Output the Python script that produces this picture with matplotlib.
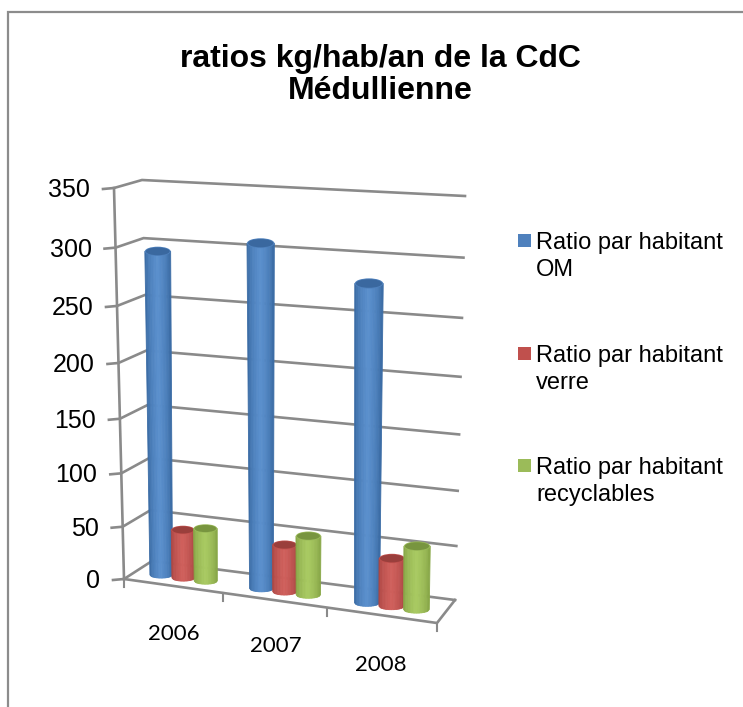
import matplotlib
matplotlib.use("Agg")
import matplotlib.pyplot as plt
import numpy as np
from matplotlib.patches import Ellipse, Polygon, Rectangle

# Data
annees = ['2006', '2007', '2008']
ratio_om = [295, 308, 281]
ratio_verre = [46, 44, 44]
ratio_recyclables = [50, 55, 58]
series = [ratio_om, ratio_verre, ratio_recyclables]
noms = ['Ratio par habitant\nOM', 'Ratio par habitant\nverre', 'Ratio par habitant\nrecyclables']
graduations = [0, 50, 100, 150, 200, 250, 300, 350]

# Colours: (base, dark edge, light centre, top face)
couleurs = [('#4F81BD', '#2F5F96', '#5B90CE', '#3A689F'),
            ('#C0504D', '#A03E3B', '#D0605C', '#9A3F3C'),
            ('#9BBB59', '#7C9A3E', '#A9CA62', '#78953F')]

# Corners of the 3D box in image pixels
sol_av_g = np.array([124, 579.])
sol_av_d = np.array([437, 623.])
sol_ar_g = np.array([152, 561.])
sol_ar_d = np.array([455, 600.])
haut_av_g = np.array([114, 188.])
haut_av_d = np.array([447, 209.])
haut_ar_g = np.array([142, 180.])
haut_ar_d = np.array([465, 196.])
vmax = 350


def persp(f, w=1.08):
    # perspective foreshortening along an edge
    return f / (f + w * (1 - f))


def projette(u, v, val):
    # u along the categories, v in depth, val is the data value
    t = persp(u)
    s = persp(val / vmax)
    bas = (sol_av_g + (sol_av_d - sol_av_g) * t) * (1 - v) + (sol_ar_g + (sol_ar_d - sol_ar_g) * t) * v
    haut = (haut_av_g + (haut_av_d - haut_av_g) * t) * (1 - v) + (haut_ar_g + (haut_ar_d - haut_ar_g) * t) * v
    return bas + (haut - bas) * s


def ligne(ax, pts, lw=1.9):
    pts = np.array(pts)
    ax.plot(pts[:, 0], pts[:, 1], color='#8A8A8A', lw=lw, solid_joinstyle='miter', zorder=2)


def cylindre(ax, u, val, coul, z):
    base, sombre, clair, dessus = coul
    rayon = 0.039
    v = 0.42
    bg = projette(u - rayon, v, 0)
    bd = projette(u + rayon, v, 0)
    hg = projette(u - rayon, v, val)
    hd = projette(u + rayon, v, val)
    yb = (bg[1] + bd[1]) / 2
    yh = (hg[1] + hd[1]) / 2
    xb = (bg[0] + bd[0]) / 2
    # the bars lean less than the walls
    xh = xb + ((hg[0] + hd[0]) / 2 - xb) * 0.5
    lb = bd[0] - bg[0]
    lh = (hd[0] - hg[0]) * (1 + 0.1 * val / vmax)
    # body as vertical strips, dark on the edges and lighter in the middle
    n = 16
    c0 = np.array(matplotlib.colors.to_rgb(sombre))
    c1 = np.array(matplotlib.colors.to_rgb(clair))
    eb = lb * 0.14
    for i in range(n):
        a0, a1 = i / n, (i + 1) / n
        am = (a0 + a1) / 2
        k = np.clip(1 - abs(am - 0.5) / 0.5, 0, 1) ** 0.45
        col = c0 + (c1 - c0) * k
        # curved lower end of the strip
        dy0 = eb * np.sqrt(max(0, 1 - (2 * a0 - 1) ** 2))
        dy1 = eb * np.sqrt(max(0, 1 - (2 * a1 - 1) ** 2))
        pts = [(xh - lh / 2 + lh * a0, yh), (xh - lh / 2 + lh * a1, yh),
               (xb - lb / 2 + lb * a1, yb + dy1), (xb - lb / 2 + lb * a0, yb + dy0)]
        ax.add_patch(Polygon(pts, closed=True, fc=col, ec=col, lw=0.6, zorder=z))
    # top face
    ax.add_patch(Ellipse((xh, yh), lh, lh * 0.36, fc=base, ec='none', zorder=z + 0.1))
    ax.add_patch(Ellipse((xh, yh), lh * 0.92, lh * 0.3, fc=dessus, ec='none', zorder=z + 0.2))


fig = plt.figure(figsize=(7.43, 7.07), dpi=100)
ax = fig.add_axes([0, 0, 1, 1])
ax.set_xlim(0, 743)
ax.set_ylim(707, 0)
ax.axis('off')

# Outer frame, cut by the screenshot on the right and at the bottom
ax.plot([8, 8, 743], [707, 12, 12], color='#8C8C8C', lw=1.6, zorder=1, solid_joinstyle='miter')

# Title
ax.text(380, 75, 'ratios kg/hab/an de la CdC\nMédullienne', ha='center', va='center',
        family='Liberation Sans', weight='bold', fontsize=23, linespacing=1.1)

# Grid on the walls, tick marks and value labels
for g in graduations:
    av = projette(0, 0, g)
    ar = projette(0, 1, g)
    fin = projette(1, 1, g)
    ligne(ax, [(av[0] - 11, av[1] + 1), av, ar, fin])
    ax.text(av[0] - 24, av[1] + 2, str(g), ha='right', va='center',
            family='Liberation Sans', fontsize=18)

# Vertical axis and floor
ligne(ax, [projette(0, 0, 0), projette(0, 0, vmax)])
ligne(ax, [projette(0, 0, 0), projette(1, 0, 0), projette(1, 1, 0)])

# Ticks and year labels
pos_etiq = [(174, 634), (276, 646), (381, 665)]
for i in range(4):
    p = projette(i / 3, 0, 0)
    ligne(ax, [p, (p[0], p[1] + 8)], lw=1.5)
for nom, (x, y) in zip(annees, pos_etiq):
    ax.text(x, y, nom, ha='center', va='center', family='Lato', fontsize=16)

# Bars, series after series so that each one overlaps the previous
for i, an in enumerate(annees):
    for j, valeurs in enumerate(series):
        u = (i * 1.012 + 0.265 + j * 0.228) / 3
        cylindre(ax, u, valeurs[i], couleurs[j], 5 + i + j * 0.3)

# Legend
y_leg = [240, 353, 465]
for nom, coul, y in zip(noms, couleurs, y_leg):
    ax.add_patch(Rectangle((518, y - 6.5), 13, 13, fc=coul[0], ec='none'))
    ax.text(536, y - 8, nom, ha='left', va='top', family='Liberation Sans',
            fontsize=17, linespacing=1.3)

fig.savefig('out.png', dpi=100)
